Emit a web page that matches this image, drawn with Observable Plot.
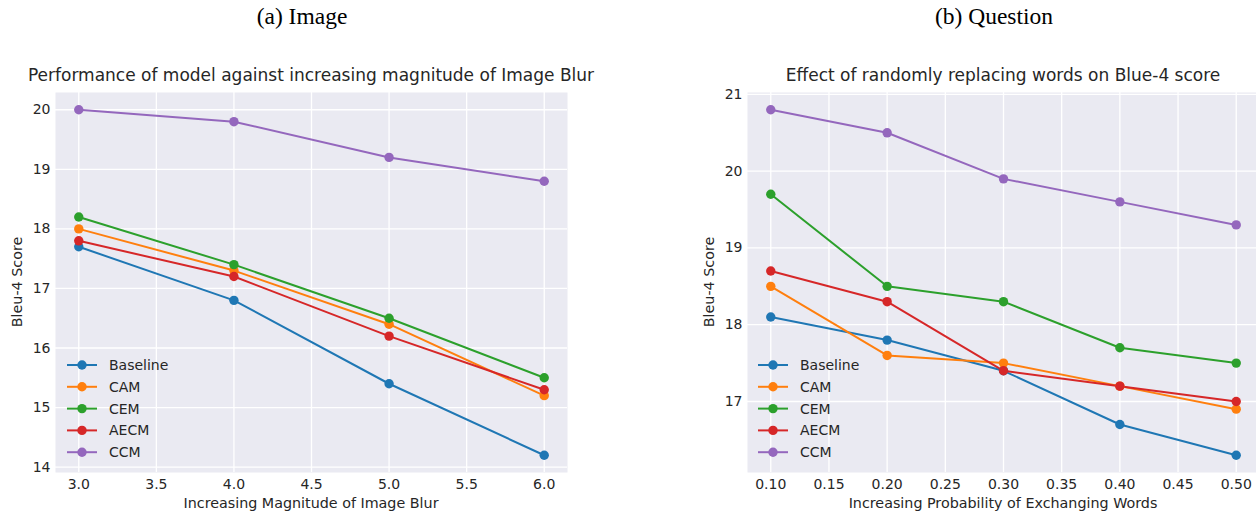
<!DOCTYPE html>
<html>
<head>
<meta charset="utf-8">
<script src="https://cdn.jsdelivr.net/npm/d3@7"></script>
<script src="https://cdn.jsdelivr.net/npm/@observablehq/plot@0.6"></script>
<style>
  html, body { margin: 0; padding: 0; width: 1256px; height: 512px; overflow: hidden; background: #fff; }
  #root { position: relative; width: 1256px; height: 512px; }
  .abs { position: absolute; white-space: nowrap; line-height: 1; }
  .cap { font-family: "Liberation Serif", "Times New Roman", serif; font-size: 23.5px; color: #000; transform: translate(-50%, -50%); }
  .ttl { font-family: "DejaVu Sans", sans-serif; font-size: 17px; color: #262626; transform: translate(-50%, -50%); }
  .xl { font-family: "DejaVu Sans", sans-serif; font-size: 14.3px; color: #262626; transform: translate(-50%, -50%); }
  .yl { font-family: "DejaVu Sans", sans-serif; font-size: 14.3px; color: #262626; transform: translate(-50%, -50%) rotate(-90deg); }
</style>
</head>
<body>
<div id="root"></div>
<script>
// ---- data ----
const series = ["Baseline", "CAM", "CEM", "AECM", "CCM"];
const colors = ["#1f77b4", "#ff7f0e", "#2ca02c", "#d62728", "#9467bd"];

// (a) Image blur
const blurX = [3.0, 4.0, 5.0, 6.0];
const blurBaseline = [17.7, 16.8, 15.4, 14.2];
const blurCAM      = [18.0, 17.3, 16.4, 15.2];
const blurCEM      = [18.2, 17.4, 16.5, 15.5];
const blurAECM     = [17.8, 17.2, 16.2, 15.3];
const blurCCM      = [20.0, 19.8, 19.2, 18.8];
const blurXTicks = [3.0, 3.5, 4.0, 4.5, 5.0, 5.5, 6.0];
const blurYTicks = [14, 15, 16, 17, 18, 19, 20];

// (b) Question word replacement
const probX = [0.10, 0.20, 0.30, 0.40, 0.50];
const probBaseline = [18.1, 17.8, 17.4, 16.7, 16.3];
const probCAM      = [18.5, 17.6, 17.5, 17.2, 16.9];
const probCEM      = [19.7, 18.5, 18.3, 17.7, 17.5];
const probAECM     = [18.7, 18.3, 17.4, 17.2, 17.0];
const probCCM      = [20.8, 20.5, 19.9, 19.6, 19.3];
const probXTicks = [0.10, 0.15, 0.20, 0.25, 0.30, 0.35, 0.40, 0.45, 0.50];
const probYTicks = [17, 18, 19, 20, 21];

function rows(xs, lists) {
  const out = [];
  lists.forEach((vals, i) => vals.forEach((v, j) => out.push({series: series[i], x: xs[j], y: v})));
  return out;
}
const blurRows = rows(blurX, [blurBaseline, blurCAM, blurCEM, blurAECM, blurCCM]);
const probRows = rows(probX, [probBaseline, probCAM, probCEM, probAECM, probCCM]);

function pad(vals, f = 0.05) {
  const [a, b] = d3.extent(vals);
  const m = (b - a) * f;
  return [a - m, b + m];
}

const root = document.getElementById("root");
function addText(cls, txt, x, y) {
  const d = document.createElement("div");
  d.className = "abs " + cls;
  d.textContent = txt;
  d.style.left = x + "px";
  d.style.top = y + "px";
  root.appendChild(d);
}

function panel({data, xTicks, yTicks, xFmt, left, width, ml, mr}) {
  const chart = Plot.plot({
    width, height: 512,
    marginLeft: ml, marginRight: mr, marginTop: 92, marginBottom: 40,
    style: {fontFamily: "DejaVu Sans, sans-serif", fontSize: "14px", color: "#262626", background: "transparent", overflow: "visible"},
    x: {domain: pad(data.map(d => d.x)), label: null},
    y: {domain: pad(data.map(d => d.y)), label: null},
    color: {domain: series, range: colors},
    marks: [
      Plot.frame({fill: "#eaeaf2", stroke: null}),
      Plot.gridX(xTicks, {stroke: "white", strokeOpacity: 1, strokeWidth: 1.3}),
      Plot.gridY(yTicks, {stroke: "white", strokeOpacity: 1, strokeWidth: 1.3}),
      Plot.axisX(xTicks, {tickSize: 0, tickPadding: 7, tickFormat: xFmt, label: null, fill: "#262626", fontSize: 14}),
      Plot.axisY(yTicks, {tickSize: 0, tickPadding: 5, tickFormat: d3.format("d"), label: null, fill: "#262626", fontSize: 14}),
      Plot.line(data, {x: "x", y: "y", z: "series", stroke: "series", strokeWidth: 2}),
      Plot.dot(data, {x: "x", y: "y", fill: "series", r: 4.7})
    ]
  });
  chart.style.position = "absolute";
  chart.style.left = left + "px";
  chart.style.top = "0px";
  root.appendChild(chart);
}

function legend(lx, ly) {
  const svg = d3.select(root).append("svg")
    .attr("width", 150).attr("height", 120)
    .style("position", "absolute").style("left", lx + "px").style("top", ly + "px");
  const g = svg.selectAll("g").data(series).join("g")
    .attr("transform", (d, i) => `translate(0, ${10 + i * 21.8})`);
  g.append("line").attr("x1", 1).attr("x2", 31).attr("stroke", (d, i) => colors[i]).attr("stroke-width", 2);
  g.append("circle").attr("cx", 16).attr("r", 4.7).attr("fill", (d, i) => colors[i]);
  g.append("text").attr("x", 43).attr("dy", "0.35em").text(d => d)
    .attr("font-family", "DejaVu Sans, sans-serif").attr("font-size", 14).attr("fill", "#262626");
}

// left panel: plot area 55..567
panel({data: blurRows, xTicks: blurXTicks, yTicks: blurYTicks, xFmt: d3.format(".1f"), left: 0, width: 620, ml: 55, mr: 53});
// right panel: plot area ~747..1259
panel({data: probRows, xTicks: probXTicks, yTicks: probYTicks, xFmt: d3.format(".2f"), left: 640, width: 640, ml: 107, mr: 21});

legend(66, 355);
legend(757, 355);

addText("cap", "(a) Image", 302, 17);
addText("cap", "(b) Question", 994, 17);
addText("ttl", "Performance of model against increasing magnitude of Image Blur", 311, 75);
addText("ttl", "Effect of randomly replacing words on Blue-4 score", 1003, 75);
addText("xl", "Increasing Magnitude of Image Blur", 311, 503);
addText("xl", "Increasing Probability of Exchanging Words", 1003, 503);
addText("yl", "Bleu-4 Score", 17, 282);
addText("yl", "Bleu-4 Score", 709, 282);
</script>
</body>
</html>
